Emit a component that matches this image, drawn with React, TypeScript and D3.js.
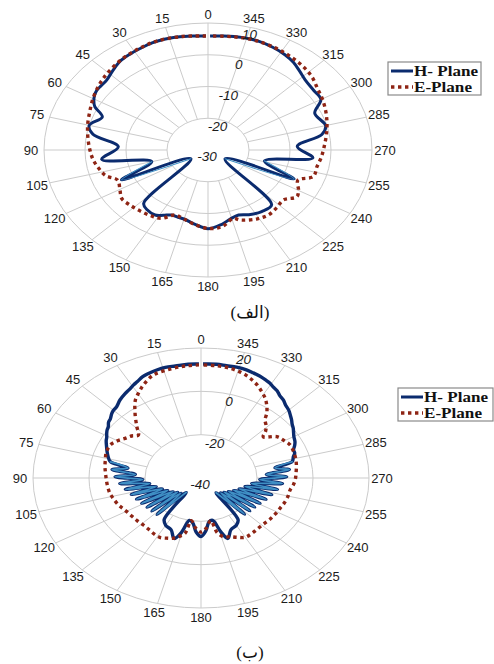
import React from 'react';
import * as d3 from 'd3';

// Azimuth ticks (degrees, counter-clockwise from the top)
const angleTicks = [0, 15, 30, 45, 60, 75, 90, 105, 120, 135, 150, 165, 180, 195, 210, 225, 240, 255, 270, 285, 300, 315, 330, 345];

// Pattern (الف): radial axis -30..10 dB
const ringsA = [-20, -10, 0, 10];
const rLabelsA = [-30, -20, -10, 0, 10];
const hPlaneADeg = [0.8, 6, 12, 17, 22, 27.4, 32, 37.6, 43, 48.3, 52, 55.2, 58, 60.8, 63.7, 68, 75, 80, 87.3, 96.5, 105, 114, 123.6, 137, 142, 147.8, 152, 156.6, 161, 165.6, 172, 180, 188, 194, 200, 207, 214, 222, 236.4, 246.5, 256, 264.5, 273, 280, 285, 294, 300, 306, 313, 318, 323, 328, 334, 340, 347, 354, 359.2];
const hPlaneADb = [5.9, 6.1, 6.4, 6.5, 6.4, 6.0, 5.7, 5.2, 4.1, 3.1, 3.0, 3.0, 2.6, 1.9, 0.8, -2.2, 0.0, -1.5, -8.1, -3.9, -15.8, -6.9, -25, -7.0, -6.0, -5.8, -6.7, -7.7, -7.6, -7.4, -6.4, -5.2, -6.3, -7.6, -8.2, -7.2, -6.6, -6.8, -25, -7.1, -15.8, -4.3, -8.2, -1.8, -0.3, -1.5, 1.8, 1.9, 2.4, 3.4, 4.6, 5.4, 6.0, 6.4, 6.4, 6.1, 5.9];
const ePlaneADeg = [0.8, 10, 20, 28, 36, 45, 52, 60, 67, 74, 82, 90, 96, 102, 108, 113.3, 120.4, 126, 133, 140.3, 147, 152.3, 158.6, 164, 171, 180, 188, 196, 199.5, 209, 216, 223, 229.4, 235.8, 240, 246.5, 252, 259, 265, 271.6, 279, 286, 293, 300, 306, 312, 318, 325, 333, 342, 350, 359.2];
const ePlaneADb = [5.9, 6.3, 6.5, 6.1, 5.5, 4.5, 3.6, 2.4, 1.3, 0.5, -0.4, -1.2, -1.8, -2.7, -3.8, -6.0, -5.1, -4.0, -4.3, -4.7, -5.1, -5.7, -8.0, -7.6, -6.5, -5.3, -5.6, -7.6, -6.6, -5.2, -4.8, -5.3, -5.8, -3.8, -4.5, -6.1, -3.0, -2.9, -2.3, -1.7, -0.8, 0.2, 1.2, 2.2, 3.0, 4.2, 5.0, 5.6, 6.1, 6.4, 6.2, 5.9];

// Pattern (ب): radial axis -40..20 dB
const ringsB = [-20, 0, 20];
const rLabelsB = [-40, -20, 0, 20];
const hPlaneBDeg = [0.8, 5, 10, 14, 17.6, 21, 24, 27, 29.4, 32, 35, 38.8, 42.5, 45, 47, 50, 52, 54.4, 56.5, 58.5, 61, 63, 66.8, 70, 73.5,
  77, 80, 83, 86, 89, 92, 95, 98, 101, 104, 107, 110, 113, 116, 119, 122, 125, 128, 131, 134, 137, 141.5,
  145.5, 150, 156, 161, 164.5, 168, 172, 176, 180, 184, 188, 192, 196, 199, 204, 210, 214.5, 218.3,
  223, 226, 229, 232, 235, 238, 241, 244, 247, 250, 253, 256, 259, 262, 265, 268, 271, 274, 277, 280, 283,
  286.5, 289, 291.4, 294, 296.5, 300, 303, 305, 307.5, 309.6, 312, 315, 318, 320.8, 323.5, 326, 328.5, 330.6, 333, 336, 339, 342, 346, 350, 354, 359.2];
const hPlaneBDb = [12.6, 12.7, 12.5, 12.6, 12.3, 11.8, 11.2, 10.0, 9.2, 8.2, 7.4, 6.2, 4.6, 4.2, 3.6, 2.3, 1.9, 0.7, 0.2, -0.5, -1.5, -2.0, -3.3, -4.3, -5.4,
  -6.8, -13.5, -8.0, -16.5, -9.3, -19.2, -10.9, -21.5, -12.5, -23.5, -14.0, -25.3, -15.0, -26.8, -15.8, -28.2, -16.5, -29.4, -16.8, -30.0, -17.0, -31.5,
  -16.8, -14.8, -13.8, -10.5, -14, -20, -19, -15, -13, -15.5, -19.5, -20, -14, -10.5, -13.8, -14.8, -16.6, -31.3,
  -17.2, -30.2, -16.9, -29.5, -16.6, -28.4, -15.9, -27, -14.8, -25.5, -13.6, -23.8, -12.2, -21.7, -10.8, -19.0, -9.4, -16.6, -8.2, -13.2, -6.6,
  -5.6, -4.6, -4.5, -3.4, -2.5, -1.7, -0.6, 0.2, 1.0, 2.0, 3.0, 4.3, 5.2, 6.5, 7.3, 8.6, 9.3, 10.2, 10.8, 11.5, 12.0, 12.5, 12.7, 12.6, 12.8, 12.6];
const ePlaneBDeg = [0.8, 6, 12, 19.7, 25.6, 29, 33, 38.3, 44, 48.4, 52, 56, 60, 63.8, 67, 71.4, 76, 81.3, 86, 90, 96, 102.3, 107, 112.9, 116, 120.4, 126, 131, 136.5, 142, 147, 151.8, 156, 160.4, 164, 167.4, 170, 175, 180, 185, 190, 193, 197, 201, 205, 210, 215, 220, 226.4, 232, 238, 243.6, 249, 255, 260, 265, 269, 273.6, 279, 283.7, 289, 295.6, 300, 305.2, 310.6, 313, 316, 319.5, 322, 325.2, 328, 331.5, 335, 339, 343, 348.4, 354, 359.2];
const ePlaneBDb = [12.2, 12.0, 11.5, 10.5, 7.6, 5.5, 3.0, -2.0, -7.0, -10.1, -8.5, -7.3, -5.6, -4.4, -4.1, -4.2, -4.8, -5.3, -5.8, -6.1, -6.4, -6.7, -7.3, -8.0, -8.6, -9.3, -9.7, -9.9, -10.1, -9.8, -9.2, -8.9, -9.6, -10.5, -12, -13.8, -20, -17, -15, -17, -20, -14, -11.5, -11, -9.8, -8.4, -8.6, -9.0, -9.2, -8.9, -8.7, -8.5, -8.1, -7.8, -7.7, -6.8, -6.3, -6.0, -5.5, -5.1, -4.8, -4.7, -5.6, -6.9, -10.7, -8.5, -6.5, -4.8, -1.8, 1.1, 3.3, 5.4, 7.4, 9.2, 10.6, 11.7, 12.1, 12.2];

const legendLabels = ['H- Plane', 'E-Plane'];
const captions = ['(الف)', '(ب)'];

const NAVY = '#0b2b6e';
const LIGHT = '#3f8fc4';
const RED = '#8e2414';
const GRID = '#cbcbcb';
const TEXT = '#1c1c1c';

type Pt = [number, number];

interface PanelProps {
  cx: number; cy: number; rx: number; ry: number;
  rMin: number; rMax: number;
  rings: number[]; rLabels: number[];
  h: Pt[]; e: Pt[];
  hWidth: number; lightWidth: number;
  lightRanges: [number, number][];
  legend: { x: number; y: number; w: number; h: number };
  caption: string; captionY: number;
}

function Panel(p: PanelProps) {
  const rScale = d3.scaleLinear().domain([p.rMin, p.rMax]).range([0, 1]).clamp(true);
  const rad = (d: number) => (d * Math.PI) / 180;
  const px = (deg: number, rn: number) => p.cx - p.rx * rn * Math.sin(rad(deg));
  const py = (deg: number, rn: number) => p.cy - p.ry * rn * Math.cos(rad(deg));
  const line = d3.line<Pt>()
    .x(d => px(d[0], rScale(d[1])))
    .y(d => py(d[0], rScale(d[1])))
    .curve(d3.curveCatmullRom.alpha(0.5));
  const inner = rScale(p.rings[0]);
  const L = p.legend;
  return (
    <g>
      {p.rings.map(v => (
        <ellipse key={'ring' + v} cx={p.cx} cy={p.cy} rx={p.rx * rScale(v)} ry={p.ry * rScale(v)}
          fill="none" stroke={GRID} strokeWidth={1} />
      ))}
      {angleTicks.map(a => (
        <line key={'sp' + a} x1={px(a, inner)} y1={py(a, inner)} x2={px(a, 1)} y2={py(a, 1)}
          stroke={GRID} strokeWidth={1} />
      ))}
      {angleTicks.map(a => (
        <text key={'al' + a} x={p.cx - (p.rx + 13) * Math.sin(rad(a))} y={p.cy - (p.ry + 9) * Math.cos(rad(a))}
          dy="0.36em" textAnchor="middle" fontFamily="Liberation Sans, Arial, sans-serif" fontSize={13} fill={TEXT}>
          {a}
        </text>
      ))}
      <path d={line(p.h) || ''} fill="none" stroke={NAVY} strokeWidth={p.hWidth} strokeLinejoin="round" />
      {p.lightRanges.map(([a0, a1], i) => (
        <path key={'lt' + i} d={line(p.h.filter(d => d[0] >= a0 && d[0] <= a1)) || ''} fill="none"
          stroke={LIGHT} strokeWidth={p.lightWidth} strokeLinejoin="round" strokeLinecap="round" />
      ))}
      <path d={line(p.e) || ''} fill="none" stroke={RED} strokeWidth={3.4} strokeDasharray="3.4 3.6" />
      {p.rLabels.map(v => (
        <text key={'rl' + v} x={px(345, rScale(v)) - 1} y={py(345, rScale(v)) + 6.5} dy="0.36em"
          textAnchor="middle" fontFamily="Liberation Sans, Arial, sans-serif" fontStyle="italic"
          fontSize={13.5} fill={TEXT}>
          {v}
        </text>
      ))}
      <rect x={L.x} y={L.y} width={L.w} height={L.h} fill="#fff" stroke="#8a8a8a" strokeWidth={1.2} />
      <line x1={L.x + 3} x2={L.x + 25} y1={L.y + 9} y2={L.y + 9} stroke={NAVY} strokeWidth={3} />
      <line x1={L.x + 3} x2={L.x + 25} y1={L.y + 25} y2={L.y + 25} stroke={RED} strokeWidth={3.4} strokeDasharray="3.4 3.6" />
      <text x={L.x + 26} y={L.y + 14} fontFamily="Liberation Serif, Times New Roman, serif" fontWeight="bold"
        fontSize={14} fill="#111" textLength={64} lengthAdjust="spacingAndGlyphs">{legendLabels[0]}</text>
      <text x={L.x + 26} y={L.y + 30} fontFamily="Liberation Serif, Times New Roman, serif" fontWeight="bold"
        fontSize={14} fill="#111" textLength={58} lengthAdjust="spacingAndGlyphs">{legendLabels[1]}</text>
      <text x={250} y={p.captionY} dy="0.36em" textAnchor="middle"
        fontFamily="Liberation Serif, DejaVu Sans, serif" fontSize={17} fill="#111">{p.caption}</text>
    </g>
  );
}

export default function App() {
  const hA = d3.zip(hPlaneADeg, hPlaneADb) as Pt[];
  const eA = d3.zip(ePlaneADeg, ePlaneADb) as Pt[];
  const hB = d3.zip(hPlaneBDeg, hPlaneBDb) as Pt[];
  const eB = d3.zip(ePlaneBDeg, ePlaneBDb) as Pt[];
  return (
    <svg width={494} height={664} style={{ position: 'absolute', left: 0, top: 0, background: '#fff' }}>
      <Panel cx={208} cy={150} rx={164} ry={127} rMin={-30} rMax={10}
        rings={ringsA} rLabels={rLabelsA} h={hA} e={eA} hWidth={3} lightWidth={1.2}
        lightRanges={[[100, 130], [230, 260]]}
        legend={{ x: 388, y: 62, w: 93, h: 33 }} caption={captions[0]} captionY={312} />
      <Panel cx={201} cy={478} rx={168} ry={130} rMin={-40} rMax={20}
        rings={ringsB} rLabels={rLabelsB} h={hB} e={eB} hWidth={3.4} lightWidth={1.7}
        lightRanges={[[76, 142], [218, 284]]}
        legend={{ x: 398, y: 388, w: 95, h: 33 }} caption={captions[1]} captionY={652} />
    </svg>
  );
}
